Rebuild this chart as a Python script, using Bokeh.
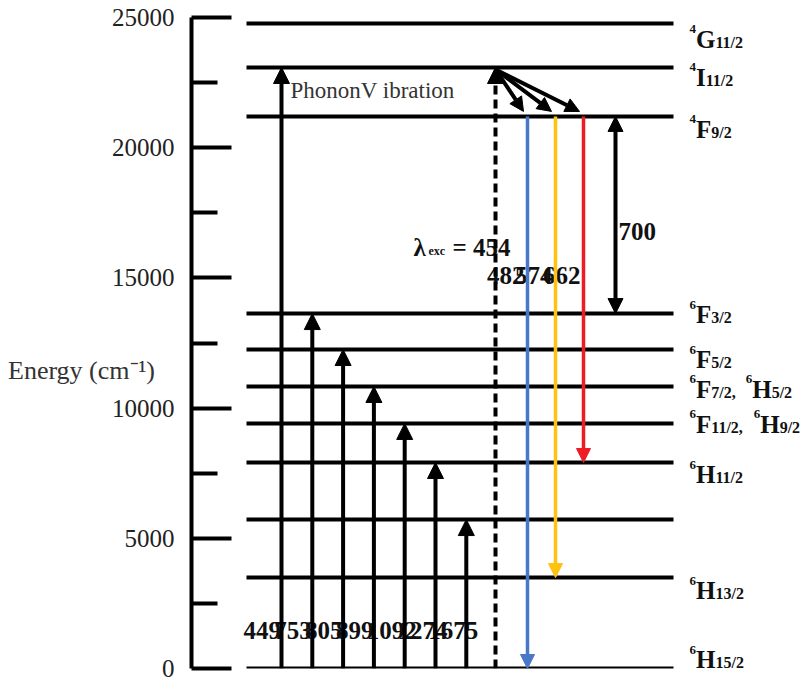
from bokeh.plotting import figure
from bokeh.models import Range1d, FixedTicker, Arrow, NormalHead, ColumnDataSource
from bokeh.core.properties import value
from bokeh.embed import file_html
from bokeh.resources import INLINE

# ---------------- data (energies in cm^-1) ----------------
level_energy = [0, 3490, 5720, 7910, 9410, 10830, 12250, 13630, 21200, 23080, 24770]
level_terms = [
    [("6", "H", "15/2")],
    [("6", "H", "13/2")],
    [],
    [("6", "H", "11/2")],
    [("6", "F", "11/2"), ("6", "H", "9/2")],
    [("6", "F", "7/2"), ("6", "H", "5/2")],
    [("6", "F", "5/2")],
    [("6", "F", "3/2")],
    [("4", "F", "9/2")],
    [("4", "I", "11/2")],
    [("4", "G", "11/2")],
]
exc_target = [23080, 13630, 12250, 10830, 9410, 7910, 5720]
exc_label = ["449", "753", "805", "899", "1092", "1274", "1675"]
pump_target = 23080
pump_label = "454"
em_top = 21200
em_target = [0, 3490, 7910]
em_label = ["482", "574", "662"]
gap_levels = [13630, 21200]
gap_label = "700"
y_ticks = [0, 5000, 10000, 15000, 20000, 25000]
y_minor = [2500, 7500, 12500, 17500, 22500]
phonon_text = "PhononV ibration"
y_title = "Energy (cm⁻¹)"

# ---------------- layout helpers (screen pixels -> data) ----------------
W, H = 808, 679
LEFT, TOP, BOTTOM = 191, 17, 668
YMAX = 25000
U = YMAX / (BOTTOM - TOP)          # energy units per pixel
SHIFT = 8                          # rendered baseline sits this much below requested


def X(px):
    return px - LEFT


def Y(py):
    return (BOTTOM - (py - SHIFT)) * U


def PY(E):
    return BOTTOM - E / U


FONT = value("Liberation Serif")
W_REG = {"H": 722, "F": 556, "G": 722, "I": 333, "/": 278, ",": 250, " ": 250, "=": 564}
W_BOLD = {"H": 778, "F": 611, "G": 778, "I": 389, "/": 278, ",": 250, " ": 250, "=": 570}


def tw(s, size, bold=True):
    tab = W_BOLD if bold else W_REG
    return sum(tab.get(c, 500) for c in s) * size / 1000.0


p = figure(width=W, height=H, x_range=Range1d(0, W - LEFT), y_range=Range1d(0, YMAX),
           output_backend="svg", toolbar_location=None, x_axis_location=None,
           min_border_left=LEFT, min_border_right=0, min_border_top=TOP,
           min_border_bottom=H - BOTTOM)
p.grid.visible = False
p.outline_line_color = None

ax = p.yaxis[0]
ax.ticker = FixedTicker(ticks=y_ticks, minor_ticks=y_minor)
ax.axis_line_width = 4
ax.major_tick_in = 40
ax.major_tick_out = 0
ax.minor_tick_in = 26
ax.minor_tick_out = 0
ax.major_tick_line_width = 4
ax.minor_tick_line_width = 4
ax.major_label_text_font = "Liberation Serif"
ax.major_label_text_font_size = "25px"
ax.major_label_text_color = "#222222"
ax.major_label_standoff = 17
ax.axis_label = "\n\n" + y_title
ax.axis_label_orientation = "horizontal"
ax.axis_label_text_font = "Liberation Serif"
ax.axis_label_text_font_size = "26px"
ax.axis_label_text_line_height = 0.95
ax.axis_label_text_font_style = "normal"
ax.axis_label_text_color = "#333333"
ax.axis_label_standoff = -46

# energy levels
p.segment(x0=X(246), x1=X(673), y0=level_energy, y1=level_energy,
          line_width=4, line_color="black")

# level labels
label_dy = [-1, 21, 0, 20, 9, 11, 18, 9, 21, 18, 24]
sx, sy, st, lx, ly, lt, bx, by, bt = [], [], [], [], [], [], [], [], []
for E, terms, dy in zip(level_energy, level_terms, label_dy):
    base = PY(E) + dy
    x = 689
    for k, (sup, let, sub) in enumerate(terms):
        if k > 0:
            x += 10
        sx.append(X(x)); sy.append(Y(base - 10)); st.append(sup)
        x += tw(sup, 13)
        lx.append(X(x)); ly.append(Y(base)); lt.append(let)
        x += tw(let, 25)
        s = sub + ("," if k < len(terms) - 1 else "")
        bx.append(X(x)); by.append(Y(base + 3)); bt.append(s)
        x += tw(s, 16)
p.text(x=sx, y=sy, text=st, text_font=FONT, text_font_size="13px", text_font_style="bold",
       text_baseline="alphabetic", text_color="#111111")
p.text(x=lx, y=ly, text=lt, text_font=FONT, text_font_size="25px", text_font_style="bold",
       text_baseline="alphabetic", text_color="#111111")
p.text(x=bx, y=by, text=bt, text_font=FONT, text_font_size="16px", text_font_style="bold",
       text_baseline="alphabetic", text_color="#111111")

# excitation arrows (black)
exc_x = [X(281 + 30.8 * i) for i in range(len(exc_target))]
p.text(x=[x - 38 for x in exc_x], y=[Y(638)] * len(exc_x), text=exc_label, text_font=FONT,
       text_font_size="25px", text_font_style="bold", text_baseline="alphabetic",
       text_color="#111111")
src_exc = ColumnDataSource(dict(x0=exc_x, y0=[0] * len(exc_x), x1=exc_x, y1=exc_target))
p.add_layout(Arrow(source=src_exc, x_start="x0", y_start="y0", x_end="x1", y_end="y1",
                   line_width=4, line_color="black",
                   end=NormalHead(size=16, fill_color="black", line_color="black")))
p.text(x=[exc_x[0] + 9], y=[Y(98)], text=[phonon_text], text_font=FONT,
       text_font_size="23px", text_baseline="alphabetic", text_color="#333333")

# pump (dashed)
pump_x = X(495)
p.add_layout(Arrow(x_start=pump_x, y_start=0, x_end=pump_x, y_end=pump_target,
                   line_width=4, line_color="black", line_dash="9 5",
                   end=NormalHead(size=16, fill_color="black", line_color="black")))
p.text(x=[X(413)], y=[Y(255)], text=["λ"], text_font=FONT, text_font_size="25px",
       text_font_style="bold", text_baseline="alphabetic", text_color="#111111")
p.text(x=[X(428)], y=[Y(258)], text=["exc"], text_font=FONT, text_font_size="12px",
       text_font_style="bold", text_baseline="alphabetic", text_color="#111111")
p.text(x=[X(452)], y=[Y(255)], text=["= " + pump_label], text_font=FONT, text_font_size="25px",
       text_font_style="bold", text_baseline="alphabetic", text_color="#111111")

# emission arrows (coloured) and phonon relaxation
em_x = [X(527 + 28 * i) for i in range(len(em_target))]
em_colors = ["#4A78C8", "#FFC20E", "#EE1C25"]
for x, t, c in zip(em_x, em_target, em_colors):
    p.add_layout(Arrow(x_start=x, y_start=em_top, x_end=x, y_end=t, line_width=3.5, line_color=c,
                       end=NormalHead(size=14, fill_color=c, line_color=c)))
    p.add_layout(Arrow(x_start=pump_x, y_start=pump_target - 2 * U, x_end=x - 4, y_end=em_top + 5 * U,
                       line_width=4, line_color="black",
                       end=NormalHead(size=14, fill_color="black", line_color="black")))
p.text(x=[x - 3 for x in em_x], y=[Y(283)] * len(em_x), text=em_label, text_font=FONT,
       text_font_size="25px", text_font_style="bold", text_align="right",
       text_baseline="alphabetic", text_color="#111111")

# energy gap double arrow
gap_x = X(615)
p.add_layout(Arrow(x_start=gap_x, y_start=gap_levels[0], x_end=gap_x, y_end=gap_levels[1],
                   line_width=4, line_color="black",
                   start=NormalHead(size=15, fill_color="black", line_color="black"),
                   end=NormalHead(size=15, fill_color="black", line_color="black")))
p.text(x=[gap_x + 3], y=[Y(239)], text=[gap_label], text_font=FONT, text_font_size="25px",
       text_font_style="bold", text_baseline="alphabetic", text_color="#111111")

open("out.html", "w").write(file_html(p, INLINE))
